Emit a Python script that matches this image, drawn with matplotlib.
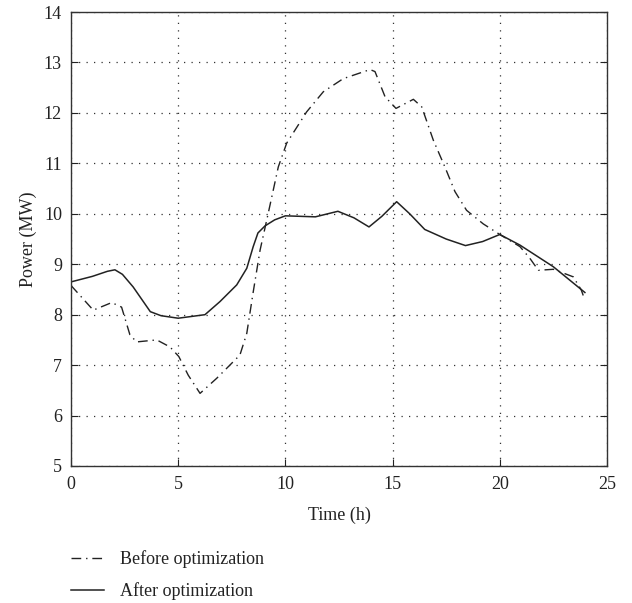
import matplotlib
matplotlib.use("Agg")
import matplotlib.pyplot as plt

plt.rcParams['font.family'] = ['Liberation Serif', 'DejaVu Serif']

t_after = [0, 1, 1.7, 2.05, 2.4, 2.9, 3.7, 4.2, 5.0, 6.25, 6.95, 7.73, 8.2, 8.5, 8.72, 9.05, 9.5, 10.0, 11.4,
           12.45, 13.2, 13.9, 14.5, 15.19, 15.8, 16.5, 17.5, 18.4, 19.2, 20.0, 20.94, 22.5, 23.97]
p_after = [8.65, 8.76, 8.86, 8.89, 8.8, 8.55, 8.06, 7.98, 7.93, 8.0, 8.26, 8.59, 8.92, 9.35, 9.62, 9.76, 9.88, 9.96, 9.94,
           10.05, 9.92, 9.74, 9.95, 10.24, 10.0, 9.69, 9.5, 9.37, 9.45, 9.59, 9.38, 8.95, 8.44]

t_before = [0, 1.04, 1.9, 2.36, 2.75, 3.06, 4.0, 4.62, 5.03, 5.47, 6.02, 6.8, 7.88, 8.2, 8.5,
            8.82, 9.2, 9.67, 10.06, 10.99, 11.77, 12.7, 13.95, 14.18, 14.65, 15.16, 15.97, 16.36,
            16.9, 17.44, 17.91, 18.45, 19.23, 20.0, 20.94, 21.4, 21.8, 22.5, 23.43, 23.8, 23.97]
p_before = [8.58, 8.09, 8.24, 8.15, 7.6, 7.46, 7.5, 7.36, 7.17, 6.80, 6.44, 6.74, 7.2, 7.63, 8.45,
            9.28, 10.01, 10.93, 11.4, 12.02, 12.42, 12.68, 12.86, 12.82, 12.32, 12.09, 12.27, 12.12,
            11.46, 10.93, 10.44, 10.07, 9.8, 9.59, 9.35, 9.12, 8.88, 8.9, 8.75, 8.49, 8.29]

labels = ["Before optimization", "After optimization"]

fig = plt.figure(figsize=(6.32, 6.03), dpi=100)
ax = fig.add_axes([0.1123, 0.2272, 0.8481, 0.7528])

lc = '#222222'
l1, = ax.plot(t_before, p_before, color=lc, lw=1.0, dashes=(7, 3.5, 1, 3.5), label=labels[0])
l2, = ax.plot(t_after, p_after, color=lc, lw=1.1, label=labels[1])

ax.set_xlim(0, 25)
ax.set_ylim(5, 14)
ax.set_xticks(range(0, 26, 5))
ax.set_yticks(range(5, 15))
ax.grid(True, color='#333333', linestyle=(0, (1, 5)), lw=0.9)
ax.tick_params(direction='in', right=True, top=False, labelsize=13, length=5, colors='#222222')
ax.tick_params(axis='x', pad=7)
ax.tick_params(axis='y', pad=6.5)
for s in ax.spines.values():
    s.set_color('#333333')
    s.set_linewidth(1.0)
ax.set_xlabel('Time (h)', fontsize=13, color='#222222', labelpad=10)
ax.set_ylabel('Power (MW)', fontsize=13, color='#222222', labelpad=5)

fig.legend(handles=[l1, l2], loc='upper left', bbox_to_anchor=(0.112, 1 - 550 / 603), frameon=False,
           fontsize=13, handlelength=1.85, handletextpad=0.85, labelspacing=0.8,
           borderaxespad=0, borderpad=0, labelcolor='#222222')

fig.savefig('out.png', dpi=100)
